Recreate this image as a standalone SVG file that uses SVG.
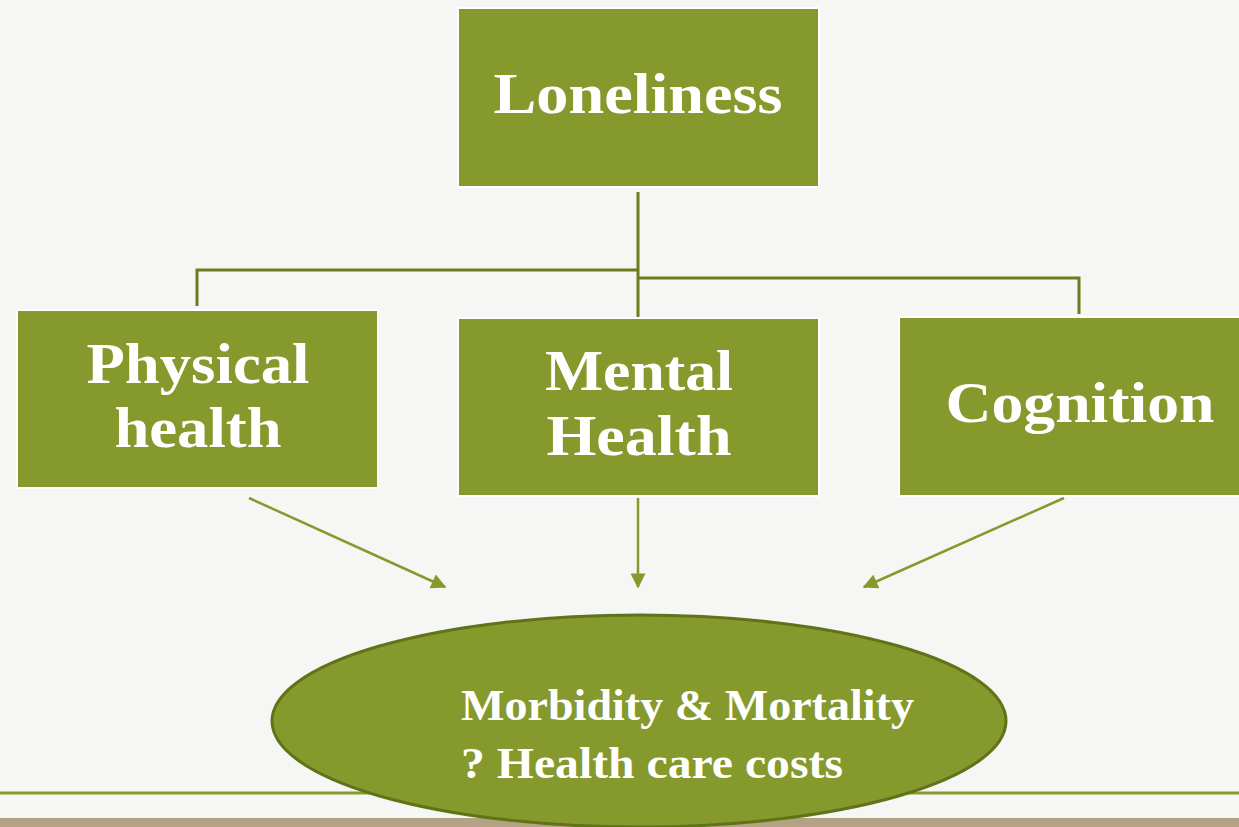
<svg xmlns="http://www.w3.org/2000/svg" width="1239" height="827" viewBox="0 0 1239 827">
<style>
.box{fill:#85992c;stroke:#ffffff;stroke-width:2}
.t{font-family:"Liberation Serif","Times New Roman",serif;font-weight:bold;fill:#ffffff;font-size:58px}
.t2{font-family:"Liberation Serif","Times New Roman",serif;font-weight:bold;fill:#ffffff;font-size:44px}
.tree{stroke:#6b7e1e;stroke-width:3;fill:none}
.arr{stroke:#85992c;stroke-width:2.5;fill:none}
</style>
<defs>
<marker id="ah2" viewBox="0 0 10 10" refX="9" refY="5" markerWidth="17" markerHeight="15" markerUnits="userSpaceOnUse" orient="auto">
<path d="M0,0 L10,5 L0,10 z" fill="#85992c"/>
</marker>
</defs>
<rect x="0" y="0" width="1239" height="827" fill="#f6f6f4"/>
<rect x="0" y="818" width="1239" height="9" fill="#b3a385"/>
<line x1="0" y1="793" x2="1239" y2="793" stroke="#85992c" stroke-width="3"/>
<g id="connectors">
<path class="tree" d="M638,192 V318"/>
<path class="tree" d="M197,306 V270 H638"/>
<path class="tree" d="M638,278 H1079 V314"/>
<line class="arr" x1="249" y1="498" x2="445" y2="587" marker-end="url(#ah2)"/>
<line class="arr" x1="638" y1="498" x2="638" y2="587" marker-end="url(#ah2)"/>
<line class="arr" x1="1064" y1="498" x2="864" y2="587" marker-end="url(#ah2)"/>
</g>
<g id="loneliness">
<rect class="box" x="458" y="8" width="361" height="179"/>
<text class="t" x="638" y="113" text-anchor="middle" textLength="289" lengthAdjust="spacingAndGlyphs">Loneliness</text>
</g>
<g id="physical">
<rect class="box" x="17" y="310" width="361" height="178"/>
<text class="t" x="198" y="383" text-anchor="middle" textLength="223" lengthAdjust="spacingAndGlyphs">Physical</text>
<text class="t" x="198" y="447" text-anchor="middle" textLength="167" lengthAdjust="spacingAndGlyphs">health</text>
</g>
<g id="mental">
<rect class="box" x="458" y="318" width="361" height="178"/>
<text class="t" x="639" y="390" text-anchor="middle" textLength="188" lengthAdjust="spacingAndGlyphs">Mental</text>
<text class="t" x="639" y="455" text-anchor="middle" textLength="185" lengthAdjust="spacingAndGlyphs">Health</text>
</g>
<g id="cognition">
<rect class="box" x="899" y="317" width="345" height="179"/>
<text class="t" x="1080" y="422" text-anchor="middle" textLength="269" lengthAdjust="spacingAndGlyphs">Cognition</text>
</g>
<g id="outcome">
<ellipse cx="639" cy="721" rx="367" ry="106" fill="#85992c" stroke="#5f7317" stroke-width="3"/>
<text class="t2" x="461" y="720" textLength="453" lengthAdjust="spacingAndGlyphs">Morbidity &amp; Mortality</text>
<text class="t2" x="461" y="778" textLength="382" lengthAdjust="spacingAndGlyphs">? Health care costs</text>
</g>
</svg>
